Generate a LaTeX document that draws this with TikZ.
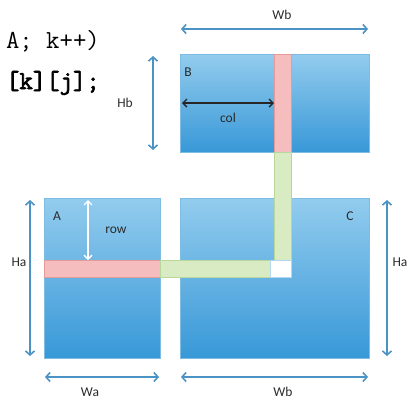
\documentclass[tikz,border=0pt]{standalone}
\usepackage{fontspec}
\setmainfont{Carlito}
\newfontfamily\codefont{Latin Modern Mono}
\newfontfamily\codeboldfont{Latin Modern Mono}[FakeBold=2.5]
\usetikzlibrary{arrows.meta,positioning,calc}
\definecolor{MatTop}{HTML}{93CCEE}
\definecolor{MatBot}{HTML}{3898D7}
\definecolor{MatEdge}{HTML}{7FBCE4}
\definecolor{DimBlue}{HTML}{4B93C4}
\definecolor{StripRed}{HTML}{F5BDBD}
\definecolor{RedEdge}{HTML}{E59A9A}
\definecolor{StripGreen}{HTML}{D9EBC3}
\definecolor{GreenEdge}{HTML}{B9D79C}
\definecolor{LabelInk}{HTML}{2B2B2B}

\begin{document}
\begin{tikzpicture}[x=1pt,y=-1pt,
    mat/.style={rectangle,inner sep=0,outer sep=0,draw=MatEdge,line width=0.6pt,
      top color=MatTop,bottom color=MatBot},
    strip/.style={rectangle,inner sep=0,outer sep=0,line width=0.8pt},
    redstrip/.style={strip,fill=StripRed,draw=RedEdge},
    greenstrip/.style={strip,fill=StripGreen,draw=GreenEdge},
    dim/.style={draw=DimBlue,line width=1.6pt,
      {Straight Barb[length=4pt,width=9pt]}-{Straight Barb[length=4pt,width=9pt]}},
    inner/.style={line width=1.4pt,
      {Straight Barb[length=4pt,width=8pt]}-{Straight Barb[length=4pt,width=8pt]}},
    lbl/.style={font=\fontsize{13.5}{13.5}\selectfont,text=LabelInk,inner sep=1pt},
    code/.style={font=\fontsize{26}{26}\selectfont,inner sep=0,anchor=base east},
  ]
  \useasboundingbox (0,0) rectangle (409,400);

  % the three matrices
  \node[mat,minimum width=189,minimum height=98] (B) at (274.5,103) {};
  \node[mat,minimum width=116,minimum height=160] (A) at (102,278) {};
  \node[mat,minimum width=189,minimum height=160] (C) at (274.5,278) {};

  % row of A, column of B and their path into C
  \node[redstrip,minimum width=116,minimum height=17] (rowA) at (102,268.5) {};
  \node[redstrip,minimum width=17,minimum height=98] (colB) at (282.5,103) {};
  \node[greenstrip,minimum width=17,minimum height=108] (colC) at (282.5,206) {};
  \node[greenstrip,minimum width=110,minimum height=17] (rowC) at (215,268.5) {};
  \node[strip,fill=white,draw=MatEdge!60,minimum width=21,minimum height=17] (cell) at (280.5,268.5) {};

  % end points of the dimension arrows
  \coordinate (wbT1) at (181,29);  \coordinate (wbT2) at (368,29);
  \coordinate (hb1) at (153,56);   \coordinate (hb2) at (153,150);
  \coordinate (haL1) at (30,200);  \coordinate (haL2) at (30,356);
  \coordinate (haR1) at (387,200); \coordinate (haR2) at (387,356);
  \coordinate (wa1) at (45,377);   \coordinate (wa2) at (159,377);
  \coordinate (wbB1) at (181,377); \coordinate (wbB2) at (368,377);
  \coordinate (col1) at (182,103);
  \coordinate (row1) at (88,200);

  \draw[dim] (wbT1) -- (wbT2);
  \draw[dim] (hb1) -- (hb2);
  \draw[dim] (haL1) -- (haL2);
  \draw[dim] (haR1) -- (haR2);
  \draw[dim] (wa1) -- (wa2);
  \draw[dim] (wbB1) -- (wbB2);
  \draw[inner,black!85] (col1) -- (colB.west);
  \draw[inner,white] (row1) -- (row1 |- rowA.north);

  % labels
  \node[lbl] (wbTtxt) at (282,15) {Wb};
  \node[lbl] (hbtxt) at (125,103) {Hb};
  \node[lbl] (coltxt) at (228,118) {col};
  \node[lbl] (rowtxt) at (116,230) {row};
  \node[lbl] (haLtxt) at (19,262) {Ha};
  \node[lbl] (haRtxt) at (400,262) {Ha};
  \node[lbl] (watxt) at (90,392) {Wa};
  \node[lbl] (wbBtxt) at (283,392) {Wb};
  \node[lbl] (Btxt) at (188,72) {B};
  \node[lbl] (Atxt) at (57,216) {A};
  \node[lbl] (Ctxt) at (350,216) {C};

  % code fragment
  \node[code,font=\codefont\fontsize{26}{26}\selectfont] (loop) at (100,48) {A; k++)};
  \node[code,font=\codeboldfont\fontsize{26}{26}\selectfont] (sum) at (100,89) {[k][j];};
\end{tikzpicture}
\end{document}
